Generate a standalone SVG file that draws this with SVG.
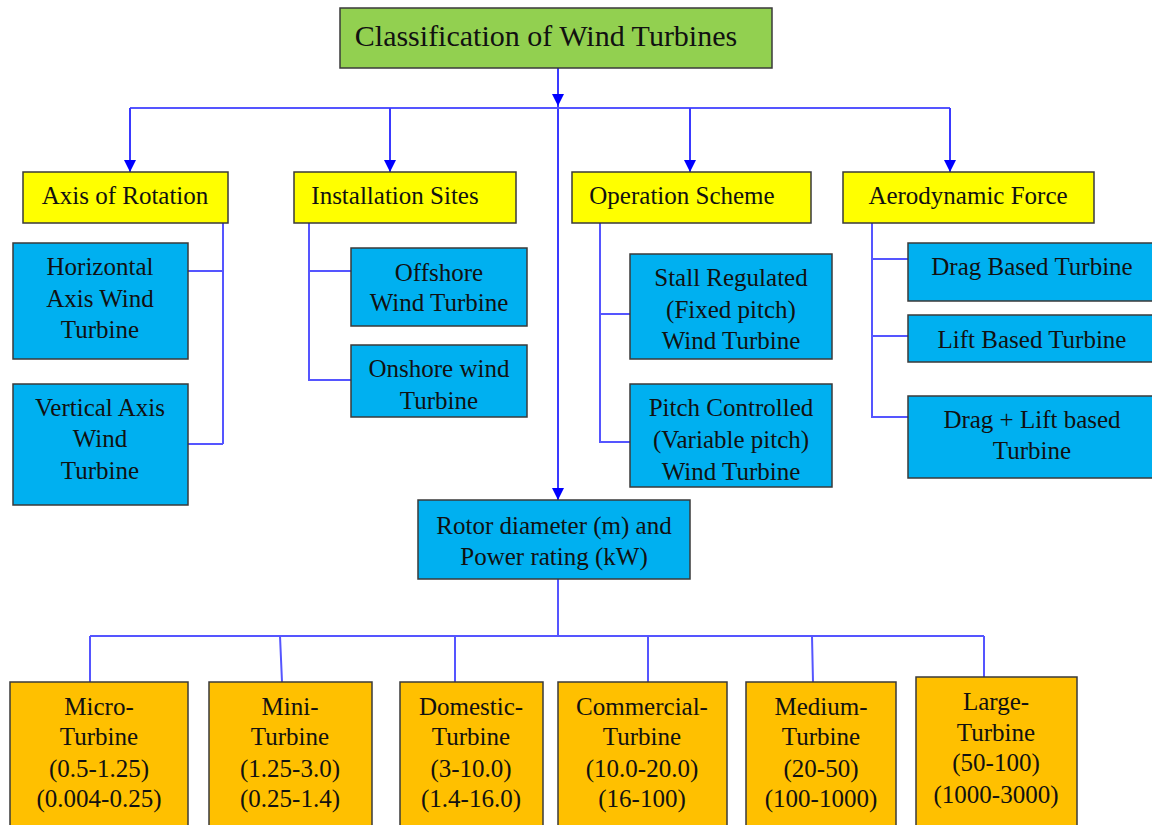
<svg xmlns="http://www.w3.org/2000/svg" width="1152" height="825" viewBox="0 0 1152 825">
<style>
.box{stroke:#3a3a3a;stroke-width:1.5}
.g{fill:#92D050}.y{fill:#FFFF00}.b{fill:#00B0F0}.o{fill:#FFC000}
text{font-family:"Liberation Serif","Times New Roman",serif;font-size:25px;fill:#111;text-anchor:middle}
.t{font-size:30px}
.c{fill:none;stroke:#5555ff;stroke-width:2}
.a{fill:none;stroke:#3a3aff;stroke-width:2}
</style>
<defs>
<marker id="arr" markerUnits="userSpaceOnUse" markerWidth="12" markerHeight="12" viewBox="0 0 12 12" refX="12" refY="6" orient="auto">
<path d="M0,0 L12,6 L0,12 z" fill="#0000ff"/>
</marker>
</defs>
<rect width="1152" height="825" fill="#ffffff"/>
<g id="connectors">
<path class="a" d="M558,68 V500" marker-end="url(#arr)"/>
<polygon points="552,94 564,94 558,106" fill="#0000ff"/>
<path class="c" d="M130,108 H950"/>
<path class="a" d="M130,108 V172" marker-end="url(#arr)"/>
<path class="a" d="M390,108 V172" marker-end="url(#arr)"/>
<path class="a" d="M690,108 V172" marker-end="url(#arr)"/>
<path class="a" d="M950,108 V172" marker-end="url(#arr)"/>
<path class="c" d="M223,223 V444 M188,271 H223 M188,444 H223"/>
<path class="c" d="M309,223 V380 H351 M309,271 H351"/>
<path class="c" d="M600,223 V442 H630 M600,314 H630"/>
<path class="c" d="M872,223 V417 H908 M872,259 H908 M872,336 H908"/>
<path class="c" d="M558,579 V636 M90,636 H984 M90,636 V682 M280,636 L282,682 M455,636 V682 M648,636 V682 M812,636 L813,682 M984,636 V677"/>
</g>
<g id="n-title"><rect class="box g" x="340" y="8" width="432" height="60"/><text class="t" x="546" y="46">Classification of Wind Turbines</text></g>
<g id="n-axis"><rect class="box y" x="23" y="172" width="205" height="51"/><text x="125" y="204">Axis of Rotation</text></g>
<g id="n-install"><rect class="box y" x="294" y="172" width="222" height="51"/><text x="395" y="204">Installation Sites</text></g>
<g id="n-operation"><rect class="box y" x="572" y="172" width="239" height="51"/><text x="682" y="204">Operation Scheme</text></g>
<g id="n-aero"><rect class="box y" x="843" y="172" width="251" height="51"/><text x="968" y="204">Aerodynamic Force</text></g>
<g id="n-hawt"><rect class="box b" x="13" y="243" width="175" height="116"/><text x="100" y="275">Horizontal</text><text x="100" y="307">Axis Wind</text><text x="100" y="338">Turbine</text></g>
<g id="n-vawt"><rect class="box b" x="13" y="384" width="175" height="121"/><text x="100" y="416">Vertical Axis</text><text x="100" y="447">Wind</text><text x="100" y="479">Turbine</text></g>
<g id="n-offshore"><rect class="box b" x="351" y="248" width="176" height="78"/><text x="439" y="281">Offshore</text><text x="439" y="311">Wind Turbine</text></g>
<g id="n-onshore"><rect class="box b" x="351" y="345" width="176" height="72"/><text x="439" y="377">Onshore wind</text><text x="439" y="409">Turbine</text></g>
<g id="n-stall"><rect class="box b" x="630" y="254" width="202" height="105"/><text x="731" y="286">Stall Regulated</text><text x="731" y="318">(Fixed pitch)</text><text x="731" y="349">Wind Turbine</text></g>
<g id="n-pitch"><rect class="box b" x="630" y="384" width="202" height="103"/><text x="731" y="416">Pitch Controlled</text><text x="731" y="448">(Variable pitch)</text><text x="731" y="480">Wind Turbine</text></g>
<g id="n-drag"><rect class="box b" x="908" y="243" width="252" height="58"/><text x="1032" y="275">Drag Based Turbine</text></g>
<g id="n-lift"><rect class="box b" x="908" y="315" width="252" height="47"/><text x="1032" y="348">Lift Based Turbine</text></g>
<g id="n-draglift"><rect class="box b" x="908" y="396" width="252" height="82"/><text x="1032" y="428">Drag + Lift based</text><text x="1032" y="459">Turbine</text></g>
<g id="n-rotor"><rect class="box b" x="418" y="500" width="272" height="79"/><text x="554" y="534">Rotor diameter (m) and</text><text x="554" y="565">Power rating (kW)</text></g>
<g id="n-micro"><rect class="box o" x="10" y="682" width="178" height="150"/><text x="99" y="715">Micro-</text><text x="99" y="745">Turbine</text><text x="99" y="777">(0.5-1.25)</text><text x="99" y="807">(0.004-0.25)</text></g>
<g id="n-mini"><rect class="box o" x="209" y="682" width="163" height="150"/><text x="290" y="715">Mini-</text><text x="290" y="745">Turbine</text><text x="290" y="777">(1.25-3.0)</text><text x="290" y="807">(0.25-1.4)</text></g>
<g id="n-domestic"><rect class="box o" x="400" y="682" width="143" height="150"/><text x="471" y="715">Domestic-</text><text x="471" y="745">Turbine</text><text x="471" y="777">(3-10.0)</text><text x="471" y="807">(1.4-16.0)</text></g>
<g id="n-commercial"><rect class="box o" x="558" y="682" width="169" height="150"/><text x="642" y="715">Commercial-</text><text x="642" y="745">Turbine</text><text x="642" y="777">(10.0-20.0)</text><text x="642" y="807">(16-100)</text></g>
<g id="n-medium"><rect class="box o" x="746" y="682" width="150" height="150"/><text x="821" y="715">Medium-</text><text x="821" y="745">Turbine</text><text x="821" y="777">(20-50)</text><text x="821" y="807">(100-1000)</text></g>
<g id="n-large"><rect class="box o" x="916" y="677" width="161" height="155"/><text x="996" y="710">Large-</text><text x="996" y="741">Turbine</text><text x="996" y="771">(50-100)</text><text x="996" y="803">(1000-3000)</text></g>
</svg>
